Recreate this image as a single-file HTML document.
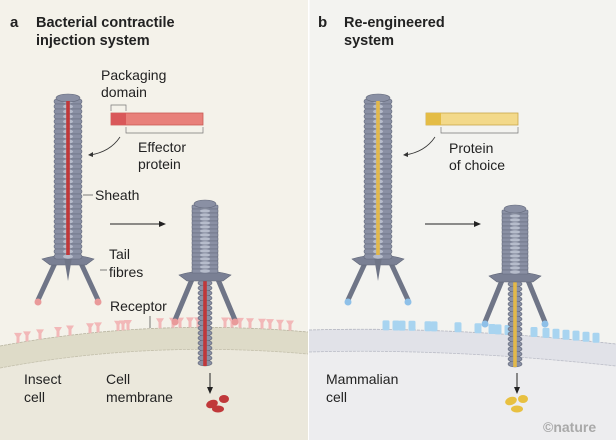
<!DOCTYPE html>
<html><head><meta charset="utf-8"><style>
html,body{margin:0;padding:0;background:#f4f2ec}
svg{display:block}
text{font-family:"Liberation Sans",sans-serif;fill:#222}
</style></head><body>
<svg id="s" width="616" height="440" viewBox="0 0 616 440" xmlns="http://www.w3.org/2000/svg">
<rect x="0" y="0" width="308" height="440" fill="#f4f2ea"/>
<rect x="309" y="0" width="307" height="440" fill="#f3f3f0"/>
<rect x="308" y="0" width="1.5" height="440" fill="#fff"/>
<path d="M0 346 Q150 318 308 332 L308 440 L0 440Z" fill="#ebe8dc"/>
<path d="M0 346 Q150 318 308 332 L308 354 Q150 340 0 368Z" fill="#dedbc8"/>
<path d="M0 346 Q150 318 308 332" fill="none" stroke="#b8b4a0" stroke-width="0.8" stroke-dasharray="3 1"/>
<path d="M0 368 Q150 340 308 354" fill="none" stroke="#c4c0ac" stroke-width="0.8" stroke-dasharray="3 1"/>
<path d="M309 330 Q450 326 616 344 L616 440 L309 440Z" fill="#ededef"/>
<path d="M309 330 Q450 326 616 344 L616 366 Q450 348 309 352Z" fill="#e1e2e8"/>
<path d="M309 330 Q450 326 616 344" fill="none" stroke="#b4b6c0" stroke-width="0.8" stroke-dasharray="3 1"/>
<path d="M309 352 Q450 348 616 366" fill="none" stroke="#bcbec8" stroke-width="0.8" stroke-dasharray="3 1"/>
<g id="g"></g>
<text x="10" y="27" font-size="15" font-weight="bold">a</text>
<text x="36" y="27" font-size="14.5" font-weight="bold">Bacterial contractile</text>
<text x="36" y="45" font-size="14.5" font-weight="bold">injection system</text>
<text x="318" y="27" font-size="15" font-weight="bold">b</text>
<text x="344" y="27" font-size="14.5" font-weight="bold">Re-engineered</text>
<text x="344" y="45" font-size="14.5" font-weight="bold">system</text>
<g font-size="14">
<text x="101" y="80">Packaging</text><text x="101" y="97">domain</text>
<text x="138" y="152">Effector</text><text x="138" y="169">protein</text>
<text x="95" y="200">Sheath</text>
<text x="109" y="259">Tail</text><text x="109" y="277">fibres</text>
<text x="110" y="311">Receptor</text>
<text x="24" y="384">Insect</text><text x="24" y="402">cell</text>
<text x="106" y="384">Cell</text><text x="106" y="402">membrane</text>
<text x="449" y="153">Protein</text><text x="449" y="170">of choice</text>
<text x="326" y="384">Mammalian</text><text x="326" y="402">cell</text>
</g>
<text x="543" y="432" font-size="14" font-weight="bold" style="fill:#a9a9a9">©nature</text>
<rect x="111" y="113" width="92" height="12" fill="#e8807a" stroke="#c85a55" stroke-width="0.8"/>
<rect x="111" y="113" width="15" height="12" fill="#d9585a"/>
<path d="M111 111 V105 H126 V111" fill="none" stroke="#777" stroke-width="0.7"/>
<path d="M126 127 V133 H203 V127" fill="none" stroke="#777" stroke-width="0.7"/>
<rect x="426" y="113" width="92" height="12" fill="#f3d98a" stroke="#c9a74a" stroke-width="0.8"/>
<rect x="426" y="113" width="15" height="12" fill="#e4bc45"/>
<path d="M441 127 V133 H518 V127" fill="none" stroke="#777" stroke-width="0.7"/>
<path d="M120 137 Q110 152 90 155" fill="none" stroke="#333" stroke-width="0.8"/><path d="M88 155 l5 -3 l0 5z" fill="#333"/>
<path d="M435 137 Q425 152 405 155" fill="none" stroke="#333" stroke-width="0.8"/><path d="M403 155 l5 -3 l0 5z" fill="#333"/>
<path d="M110 224 H160" stroke="#222" stroke-width="1"/><path d="M166 224 l-7 -3 v6z" fill="#222"/>
<path d="M425 224 H475" stroke="#222" stroke-width="1"/><path d="M481 224 l-7 -3 v6z" fill="#222"/>
<path d="M83 195 H93 M100 270 H107 M150 316 V328" stroke="#555" stroke-width="0.8"/>
<path d="M210 373 V388" stroke="#222" stroke-width="1"/><path d="M210 394 l-3 -7 h6z" fill="#222"/>
<path d="M517 373 V388" stroke="#222" stroke-width="1"/><path d="M517 394 l-3 -7 h6z" fill="#222"/>
<g fill="#c0383a"><ellipse cx="212" cy="404" rx="6" ry="4" transform="rotate(-20 212 404)"/><ellipse cx="224" cy="399" rx="5" ry="4"/><ellipse cx="218" cy="409" rx="6" ry="3.5"/></g>
<g fill="#e8c040"><ellipse cx="511" cy="401" rx="6" ry="4" transform="rotate(-20 511 401)"/><ellipse cx="523" cy="399" rx="5" ry="4"/><ellipse cx="517" cy="409" rx="6" ry="3.5"/></g>
</svg>
<script>
var g=document.getElementById('g'),h='';
function E(t,a){h+='<'+t+' '+a+'/>';}
function q(t,a,b,c){return (1-t)*(1-t)*a+2*t*(1-t)*b+t*t*c;}
// receptors first (behind phages)
var rl=[18,27,40,58,70,90,98,118,123,128,160,173,180,190,198,225,232,240,250,262,270,280,290];
rl.forEach(function(x){var y=q(x/308,346,318,332);E('path','d="M'+(x-4)+' '+(y-10)+' h8 l-2.5 4 v6 h-3 v-6z" fill="#f2b8b8"');});
var rr=[386,396,402,412,428,434,458,478,492,498,508,534,546,556,566,576,586,596];
rr.forEach(function(x){var y=q((x-309)/307,330,326,344);E('rect','x="'+(x-3.5)+'" y="'+(y-9)+'" width="7" height="10" rx="1.5" fill="#a8d4f0"');});
function phage(cx,top,len,contract,core,tipCol,legY){
 var w=contract?26:28;
 var by=top+len;
 E('path','d="M'+(cx-12)+' '+(by+4)+' L'+(cx-30)+' '+(legY)+'" stroke="#6f7587" stroke-width="5" stroke-linecap="round" fill="none"');
 E('path','d="M'+(cx+12)+' '+(by+4)+' L'+(cx+30)+' '+(legY)+'" stroke="#6f7587" stroke-width="5" stroke-linecap="round" fill="none"');
 E('circle','cx="'+(cx-30)+'" cy="'+(legY+2)+'" r="3.5" fill="'+tipCol+'"');
 E('circle','cx="'+(cx+30)+'" cy="'+(legY+2)+'" r="3.5" fill="'+tipCol+'"');
 if(contract){
  var tb=by+95;
  for(var y=by;y<tb;y+=5)E('ellipse','cx="'+cx+'" cy="'+y+'" rx="7" ry="3" fill="#8a90a4" stroke="#5f6577" stroke-width="0.6"');
  E('rect','x="'+(cx-1.8)+'" y="'+(by-10)+'" width="3.6" height="'+(tb-by+8)+'" fill="'+core+'"');
 }
 E('path','d="M'+(cx-26)+' '+(by+2)+' Q'+cx+' '+(by-6)+' '+(cx+26)+' '+(by+2)+' L'+(cx+18)+' '+(by+8)+' L'+(cx-18)+' '+(by+8)+'Z" fill="#7a8094" stroke="#5f6577" stroke-width="0.6"');
 if(!contract) E('path','d="M'+(cx-4)+' '+by+' L'+cx+' '+(by+24)+' L'+(cx+4)+' '+by+'Z" fill="#6f7587"');
 var step=contract?4:5;
 for(var y=top+4;y<by;y+=step){
  E('rect','x="'+(cx-w/2)+'" y="'+y+'" width="'+w+'" height="'+step+'" rx="'+(contract?1:2.5)+'" fill="#8a90a4" stroke="#646a7c" stroke-width="0.6"');
  E('ellipse','cx="'+cx+'" cy="'+(y+step/2)+'" rx="5" ry="'+(step/2-0.3)+'" fill="#b6bccb"');
 }
 E('ellipse','cx="'+cx+'" cy="'+(top+3)+'" rx="'+(w/2-2)+'" ry="4" fill="#8a90a4" stroke="#646a7c" stroke-width="0.6"');
 if(!contract) E('rect','x="'+(cx-1.8)+'" y="'+(top+6)+'" width="3.6" height="'+(len-8)+'" fill="'+core+'"');
}
phage(68,95,162,false,'#c0383a','#e99a9a',300);
phage(205,201,72,true,'#c0383a','#e99a9a',320);
phage(378,95,162,false,'#e2b84a','#8ec0e8',300);
phage(515,206,68,true,'#e2b84a','#8ec0e8',322);
g.innerHTML=h;
</script>
</body></html>
